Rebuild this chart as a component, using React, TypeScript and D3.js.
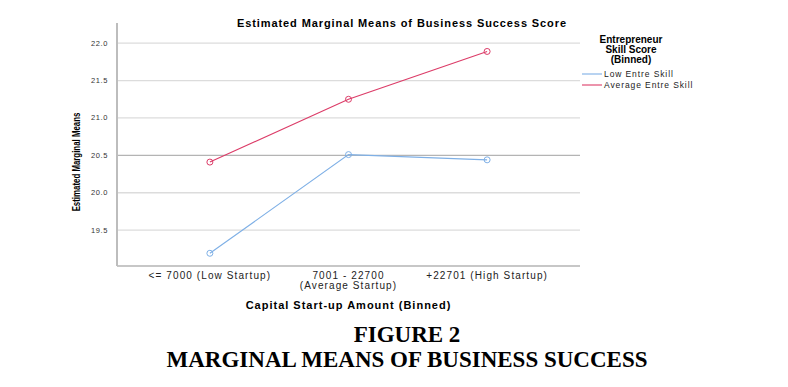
import { useEffect, useRef } from "react";
import * as d3 from "d3";

const categories = ["<= 7000 (Low Startup)", "7001 - 22700|(Average Startup)", "+22701 (High Startup)"];
const lowEntreSkill = [19.19, 20.51, 20.44];
const averageEntreSkill = [20.41, 21.25, 21.89];
const yTicks = [19.5, 20.0, 20.5, 21.0, 21.5, 22.0];
const seriesNames = ["Low Entre Skill", "Average Entre Skill"];

const App = () => {
    const chartRef = useRef<SVGSVGElement>(null);

    useEffect(() => {
        const svg = d3.select(chartRef.current);
        svg.selectAll("*").remove(); // Clear previous render

        const width = 788;
        const height = 387;
        const plot = { left: 117, right: 580, top: 32, bottom: 266 };
        const sans = "'Liberation Sans', Arial, sans-serif";

        svg.attr("width", width).attr("height", height).style("background", "#fff");

        const x = d3
            .scalePoint()
            .domain(categories)
            .range([plot.left, plot.right])
            .padding(0.67);

        const y = d3
            .scaleLinear()
            .domain([19.02, 22.15])
            .range([plot.bottom, plot.top]);

        // Grid lines
        svg
            .selectAll("line.grid")
            .data(yTicks)
            .enter()
            .append("line")
            .attr("x1", plot.left)
            .attr("x2", plot.right)
            .attr("y1", (d) => y(d))
            .attr("y2", (d) => y(d))
            .attr("stroke", (d) => (d === 20.5 ? "#b4b4b4" : "#dcdcdc"))
            .attr("stroke-width", 1.3);

        // Axis lines
        svg
            .append("line")
            .attr("x1", plot.left)
            .attr("x2", plot.right)
            .attr("y1", plot.bottom)
            .attr("y2", plot.bottom)
            .attr("stroke", "#b4b4b4")
            .attr("stroke-width", 1.3);

        svg
            .append("line")
            .attr("x1", plot.left)
            .attr("x2", plot.left)
            .attr("y1", 23)
            .attr("y2", plot.bottom)
            .attr("stroke", "#bdbdbd")
            .attr("stroke-width", 2);

        // Y tick labels
        svg
            .selectAll("text.ytick")
            .data(yTicks)
            .enter()
            .append("text")
            .attr("x", 108)
            .attr("y", (d) => y(d) + 2.5)
            .attr("text-anchor", "end")
            .attr("font-family", sans)
            .attr("font-size", 7.5)
            .attr("letter-spacing", 0.6)
            .attr("fill", "#333")
            .text((d) => d.toFixed(1));

        // X tick labels
        categories.forEach((c) => {
            const lines = c.split("|");
            const t = svg
                .append("text")
                .attr("x", x(c))
                .attr("y", 279)
                .attr("text-anchor", "middle")
                .attr("font-family", sans)
                .attr("font-size", 10)
                .attr("letter-spacing", 1.1)
                .attr("fill", "#222");
            lines.forEach((l, i) => {
                t.append("tspan").attr("x", x(c)).attr("dy", i === 0 ? 0 : 10).text(l);
            });
        });

        const series = [
            { name: seriesNames[0], values: lowEntreSkill, color: "#7fb0e6" },
            { name: seriesNames[1], values: averageEntreSkill, color: "#dc3c68" },
        ];

        const line = d3
            .line<number>()
            .x((d, i) => x(categories[i]))
            .y((d) => y(d));

        series.forEach((s) => {
            svg
                .append("path")
                .datum(s.values)
                .attr("d", line)
                .attr("fill", "none")
                .attr("stroke", s.color)
                .attr("stroke-width", 1.1);

            svg
                .selectAll(null)
                .data(s.values)
                .enter()
                .append("circle")
                .attr("cx", (d, i) => x(categories[i]))
                .attr("cy", (d) => y(d))
                .attr("r", 3)
                .attr("fill", "none")
                .attr("stroke", s.color)
                .attr("stroke-width", 1);
        });

        // Chart title
        svg
            .append("text")
            .attr("x", 402)
            .attr("y", 27)
            .attr("text-anchor", "middle")
            .attr("font-family", sans)
            .attr("font-weight", "bold")
            .attr("font-size", 11)
            .attr("letter-spacing", 0.9)
            .text("Estimated Marginal Means of Business Success Score");

        // Axis titles
        svg
            .append("text")
            .attr("x", (plot.left + plot.right) / 2)
            .attr("y", 309)
            .attr("text-anchor", "middle")
            .attr("font-family", sans)
            .attr("font-weight", "bold")
            .attr("font-size", 11)
            .attr("letter-spacing", 1)
            .text("Capital Start-up Amount (Binned)");

        svg
            .append("text")
            .attr("transform", "translate(80,162) rotate(-90) scale(0.75,1)")
            .attr("text-anchor", "middle")
            .attr("font-family", sans)
            .attr("font-weight", "bold")
            .attr("font-size", 10.5)
            .text("Estimated Marginal Means");

        // Legend
        const legendTitle = ["Entrepreneur", "Skill Score", "(Binned)"];
        svg
            .selectAll("text.ltitle")
            .data(legendTitle)
            .enter()
            .append("text")
            .attr("x", 631)
            .attr("y", (d, i) => 43 + i * 10)
            .attr("text-anchor", "middle")
            .attr("font-family", sans)
            .attr("font-weight", "bold")
            .attr("font-size", 10)
            .text((d) => d);

        series.forEach((s, i) => {
            const ly = 74 + i * 11;
            svg
                .append("line")
                .attr("x1", 582)
                .attr("x2", 602)
                .attr("y1", ly)
                .attr("y2", ly)
                .attr("stroke", s.color)
                .attr("stroke-width", 1.1);
            svg
                .append("text")
                .attr("x", 604)
                .attr("y", ly + 3)
                .attr("font-family", sans)
                .attr("font-size", 8.5)
                .attr("letter-spacing", 0.9)
                .attr("fill", "#222")
                .text(s.name);
        });

        // Figure caption
        const caption = ["FIGURE 2", "MARGINAL MEANS OF BUSINESS SUCCESS"];
        svg
            .selectAll("text.caption")
            .data(caption)
            .enter()
            .append("text")
            .attr("x", 407)
            .attr("y", (d, i) => 342 + i * 25)
            .attr("text-anchor", "middle")
            .attr("font-family", "'Liberation Serif', 'Times New Roman', serif")
            .attr("font-weight", "bold")
            .attr("font-size", 23)
            .text((d) => d);
    }, []);

    return (
        <div style={{ position: "absolute", left: 0, top: 0 }}>
            <svg ref={chartRef}></svg>
        </div>
    );
};

export default App;
